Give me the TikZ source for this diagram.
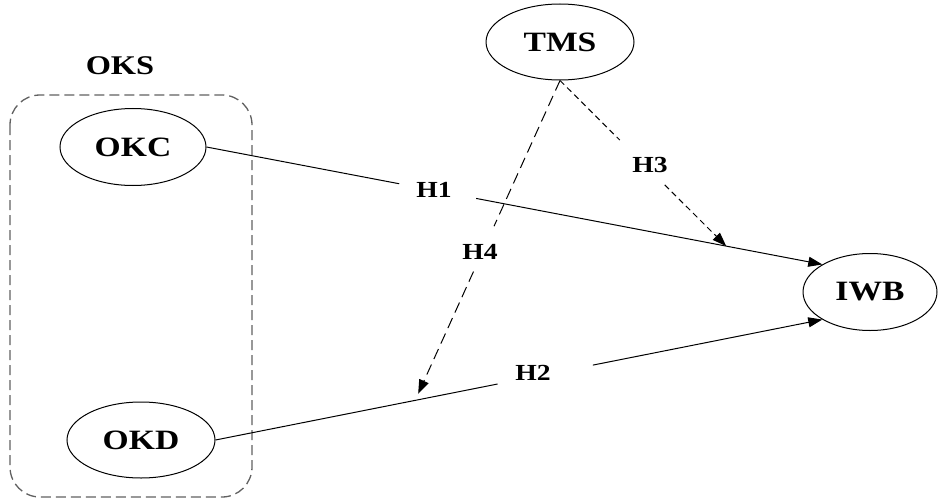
\documentclass[tikz,border=0pt]{standalone}
\usepackage{fontspec}
\setmainfont{Liberation Serif}[FakeStretch=1.2]
\usetikzlibrary{arrows.meta,shapes.geometric,calc}

\tikzset{
  construct/.style={draw, ellipse, line width=1pt, inner sep=0pt,
    font=\fontsize{28}{32}\selectfont\bfseries},
  hyplabel/.style={inner sep=0pt, font=\fontsize{23}{27}\selectfont\bfseries},
  grouplabel/.style={inner sep=0pt, font=\fontsize{27}{31}\selectfont\bfseries},
  solidlink/.style={line width=1pt},
  tipped/.style={-{Triangle[length=14pt,width=10pt]}},
  longdash/.style={line width=1pt, dash pattern=on 11pt off 6pt},
  shortdash/.style={line width=1pt, dash pattern=on 6pt off 4pt},
  groupbox/.style={draw=black!62, line width=1.3pt, dash pattern=on 10pt off 5pt,
    rounded corners=30pt}
}

\begin{document}
\begin{tikzpicture}[x=1pt, y=-1pt]
  \useasboundingbox (0,0) rectangle (941,500);

  % grouping of the two sub-dimensions
  \draw[groupbox] (10,95) rectangle (252,497);
  \node[grouplabel] (oks) at (120,66) {OKS};

  % constructs
  \node[construct, minimum width=148pt, minimum height=76pt] (tms) at (560,42) {TMS};
  \node[construct, minimum width=146pt, minimum height=77pt] (okc) at (133,147) {OKC};
  \node[construct, minimum width=148pt, minimum height=76pt] (okd) at (141,440) {OKD};
  \node[construct, minimum width=134pt, minimum height=77pt] (iwb) at (870,292) {IWB};

  % reference points along the direct paths
  \path (okc.east) -- coordinate[pos=0.313] (h1a) coordinate[pos=0.438] (h1b)
        coordinate[pos=0.844] (m1) (iwb.150);
  \path (okd.east) -- coordinate[pos=0.465] (h2a) coordinate[pos=0.622] (h2b)
        coordinate[pos=0.334] (m2) (iwb.210);

  % direct effects
  \draw[solidlink] (okc.east) -- (h1a);
  \draw[solidlink, tipped] (h1b) -- (iwb.150);
  \draw[solidlink] (okd.east) -- (h2a);
  \draw[solidlink, tipped] (h2b) -- (iwb.210);

  % moderating effects
  \path (tms.south) -- coordinate[pos=0.36] (h3a) coordinate[pos=0.63] (h3b) (m1);
  \draw[shortdash] (tms.south) -- (h3a);
  \draw[shortdash, tipped] (h3b) -- (m1);

  \coordinate (m2t) at ($(m2)+(0,-6)$);
  \path (tms.south) -- coordinate[pos=0.465] (h4a) coordinate[pos=0.61] (h4b) (m2t);
  \draw[longdash] (tms.south) -- (h4a);
  \draw[longdash, tipped] (h4b) -- (m2t);

  % hypothesis labels
  \node[hyplabel] (h1) at (434,190) {H1};
  \node[hyplabel] (h2) at (533,373) {H2};
  \node[hyplabel] (h3) at (650,165) {H3};
  \node[hyplabel] (h4) at (480,252) {H4};
\end{tikzpicture}
\end{document}
